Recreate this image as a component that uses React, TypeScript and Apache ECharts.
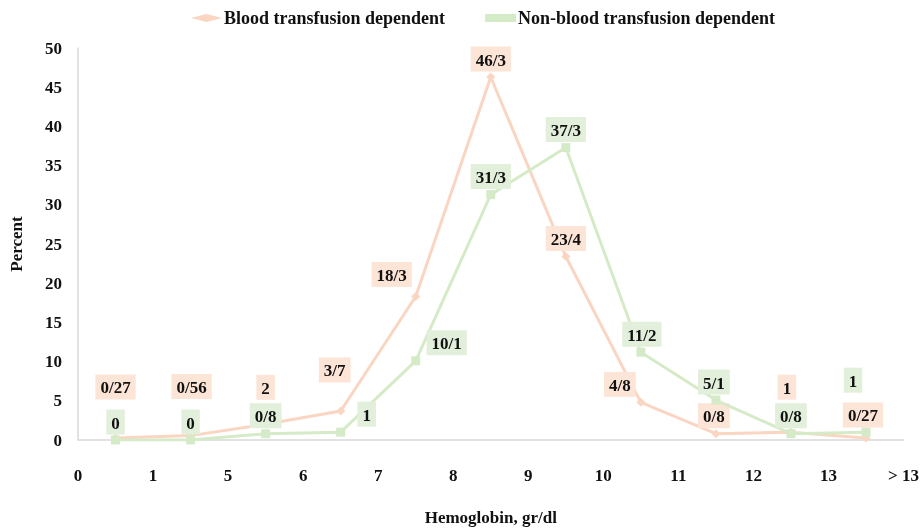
import React, { useEffect, useRef } from "react";
import * as echarts from "echarts";

const xTickLabels = ["0", "1", "5", "6", "7", "8", "9", "10", "11", "12", "13", "> 13"];
const seriesNames = ["Blood transfusion dependent", "Non-blood transfusion dependent"];
const bloodValues = [0.27, 0.56, 2, 3.7, 18.3, 46.3, 23.4, 4.8, 0.8, 1, 0.27];
const bloodLabels = ["0/27", "0/56", "2", "3/7", "18/3", "46/3", "23/4", "4/8", "0/8", "1", "0/27"];
const nonBloodValues = [0, 0, 0.8, 1, 10.1, 31.3, 37.3, 11.2, 5.1, 0.8, 1];
const nonBloodLabels = ["0", "0", "0/8", "1", "10/1", "31/3", "37/3", "11/2", "5/1", "0/8", "1"];

// label nudges (layout only)
const bloodLabelOffsets = [[0, -32], [1, -30], [0, -18], [-6, -22], [-24, -3], [0, 1], [0, 1], [-21, 1], [-2, 1], [-4, -26], [-3, -4]];
const nonBloodLabelOffsets = [[0, 1], [0, 1], [0, 1], [26, 1], [31, 1], [0, 1], [0, 1], [1, 1], [-2, 1], [0, 1], [-13, -33]];

const FONT = "Liberation Serif";
const PINK_LINE = "#F9D5C2";
const PINK_BG = "#FCE4D6";
const GREEN_LINE = "#D5EBC8";
const GREEN_BG = "#E2EFDA";

export default function App() {
  const ref = useRef<HTMLDivElement>(null);
  useEffect(() => {
    if (!ref.current) return;
    const chart = echarts.init(ref.current, undefined, { renderer: "svg" });
    const mk = (vals: number[], labels: string[], offs: number[][], bg: string) =>
      vals.map((v, i) => ({
        value: [i + 0.5, v],
        label: {
          show: true,
          position: "top",
          distance: 2,
          offset: offs[i],
          formatter: labels[i],
          backgroundColor: bg,
          padding: [5, 5, 3, 5],
          color: "#111",
          fontFamily: FONT,
          fontWeight: "bold",
          fontSize: 17,
        },
      }));
    chart.setOption({
      animation: false,
      legend: {
        top: 4,
        left: 186,
        itemGap: 40,
        itemWidth: 31,
        itemHeight: 8,
        textStyle: { fontFamily: FONT, fontWeight: "bold", fontSize: 18, color: "#111", padding: [0, 0, 0, -3] },
        data: [
          { name: seriesNames[0], icon: "diamond" },
          { name: seriesNames[1], icon: "rect" },
        ],
      },
      grid: { left: 76, right: 16, top: 48, bottom: 87 },
      xAxis: {
        type: "value",
        min: 0,
        max: 11,
        interval: 1,
        name: "Hemoglobin, gr/dl",
        nameLocation: "middle",
        nameGap: 69,
        nameTextStyle: { fontFamily: FONT, fontWeight: "bold", fontSize: 17, color: "#111" },
        axisLine: { show: true, lineStyle: { color: "#d9d9d9", width: 1.5 } },
        axisTick: { show: false },
        splitLine: { show: false },
        axisLabel: {
          margin: 27,
          fontFamily: FONT,
          fontWeight: "bold",
          fontSize: 17,
          color: "#111",
          formatter: (v: number) => xTickLabels[Math.round(v)] ?? "",
        },
      },
      yAxis: {
        type: "value",
        min: 0,
        max: 50,
        interval: 5,
        name: "Percent",
        nameLocation: "middle",
        nameGap: 53,
        nameRotate: 90,
        nameTextStyle: { fontFamily: FONT, fontWeight: "bold", fontSize: 17, color: "#111" },
        axisLine: { show: true, lineStyle: { color: "#d9d9d9", width: 1.5 } },
        axisTick: { show: false },
        splitLine: { show: false },
        axisLabel: { margin: 16, fontFamily: FONT, fontWeight: "bold", fontSize: 17, color: "#111" },
      },
      series: [
        {
          name: seriesNames[0],
          type: "line",
          symbol: "diamond",
          symbolSize: 9,
          lineStyle: { color: PINK_LINE, width: 3 },
          itemStyle: { color: PINK_LINE },
          data: mk(bloodValues, bloodLabels, bloodLabelOffsets, PINK_BG),
          z: 2,
        },
        {
          name: seriesNames[1],
          type: "line",
          symbol: "rect",
          symbolSize: 9,
          lineStyle: { color: GREEN_LINE, width: 3 },
          itemStyle: { color: GREEN_LINE },
          data: mk(nonBloodValues, nonBloodLabels, nonBloodLabelOffsets, GREEN_BG),
          z: 3,
        },
      ],
    });
    return () => chart.dispose();
  }, []);
  return <div ref={ref} style={{ position: "fixed", left: 0, top: 0, width: 922, height: 531 }} />;
}
